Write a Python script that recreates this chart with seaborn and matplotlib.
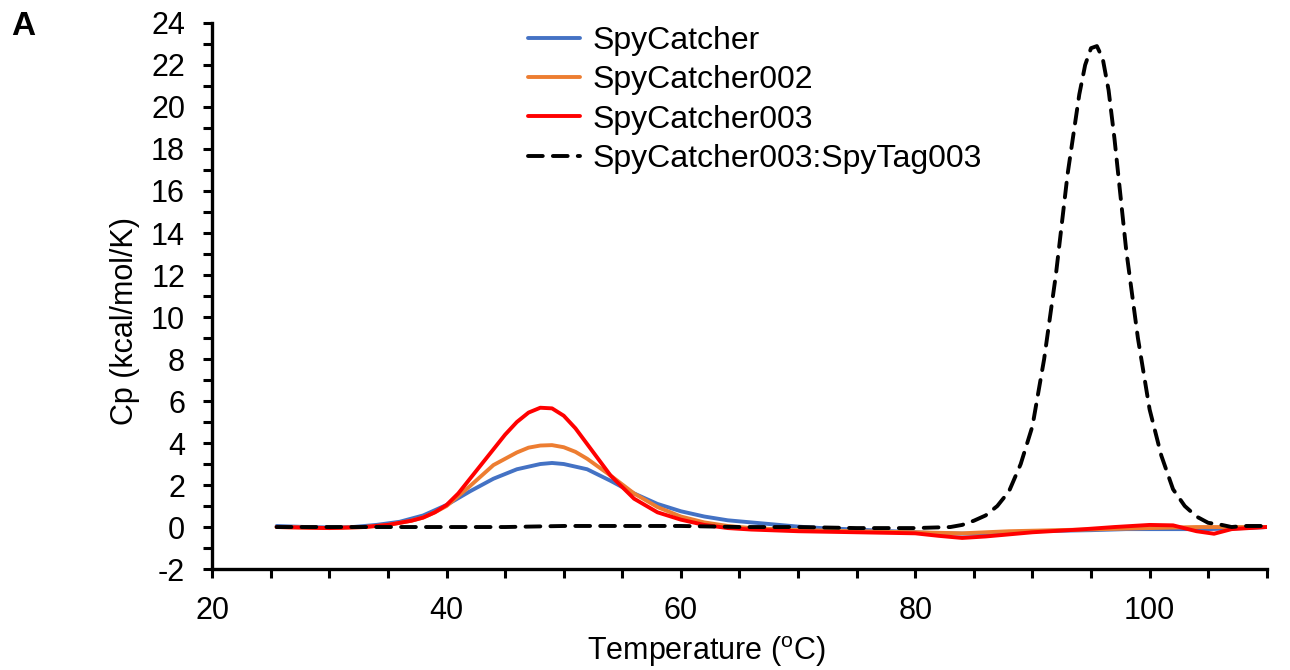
import matplotlib
matplotlib.use("Agg")
from matplotlib import pyplot as plt
from matplotlib.ticker import MultipleLocator
import seaborn as sns

# SpyCatcher (blue)
t_spy = [25.5, 28, 30, 32, 34, 36, 38, 40, 42, 44, 46, 48, 49, 50, 52, 54, 56, 58, 60,
         62, 64, 66, 68, 70, 72, 75, 78, 80, 82, 85, 88, 90, 95, 98, 100, 105, 108, 110]
cp_spy = [0.05, 0.0, -0.02, 0.0, 0.1, 0.25, 0.55, 1.05, 1.7, 2.3, 2.75, 3.0, 3.05, 3.0, 2.75, 2.2, 1.6, 1.1, 0.75,
          0.5, 0.32, 0.22, 0.12, 0.02, -0.05, -0.12, -0.2, -0.25, -0.3, -0.32, -0.25, -0.2, -0.15, -0.1, -0.1, -0.1, -0.05, 0.0]

# SpyCatcher002 (orange)
t_002 = [25.5, 30, 33, 35, 37, 38, 39, 40, 42, 44, 46, 47, 48, 49, 50, 51, 52, 54, 56, 58, 60,
         62, 64, 66, 68, 70, 75, 80, 84, 88, 92, 96, 100, 104, 108, 110]
cp_002 = [0.0, -0.05, 0.0, 0.1, 0.3, 0.45, 0.7, 1.0, 1.95, 2.95, 3.55, 3.78, 3.88, 3.9, 3.8, 3.58, 3.25, 2.45, 1.6, 0.95, 0.5,
          0.22, 0.05, -0.05, -0.1, -0.15, -0.2, -0.25, -0.3, -0.2, -0.15, -0.1, -0.05, 0.0, 0.0, 0.0]

# SpyCatcher003 (red)
t_003 = [25.5, 30, 33, 35, 37, 38, 39, 40, 41, 42, 43, 44, 45, 46, 47, 48, 49, 50, 51, 52, 53, 54, 56, 58, 60,
         62, 64, 66, 70, 75, 80, 82, 84, 86, 88, 90, 94, 97, 100, 102, 104, 105.5, 107, 110]
cp_003 = [0.0, -0.05, 0.0, 0.1, 0.3, 0.45, 0.7, 1.05, 1.6, 2.3, 3.0, 3.7, 4.4, 5.0, 5.45, 5.68, 5.65, 5.3, 4.7, 3.95, 3.2, 2.45, 1.35, 0.7, 0.35,
          0.1, -0.05, -0.12, -0.2, -0.25, -0.3, -0.42, -0.52, -0.45, -0.35, -0.25, -0.12, 0.0, 0.1, 0.08, -0.2, -0.32, -0.1, 0.0]

# SpyCatcher003:SpyTag003 (black dashed)
t_cplx = [25.5, 30, 35, 40, 45, 50, 55, 60, 65, 70, 75, 80, 83, 84, 85, 86, 87, 88, 89, 90, 91, 92, 93, 94, 94.5, 95, 95.5,
          96, 96.5, 97, 98, 99, 100, 101, 102, 103, 104, 105, 106, 107, 108, 110]
cp_cplx = [0.0, 0.0, 0.0, 0.0, 0.0, 0.05, 0.05, 0.05, 0.0, 0.0, -0.05, -0.05, 0.0, 0.1, 0.3, 0.55, 1.0, 1.7, 3.0, 4.8, 8.0, 12.0, 16.8, 20.6, 22.0, 22.8, 22.9,
           22.3, 20.8, 18.5, 13.2, 9.0, 5.6, 3.4, 1.8, 1.0, 0.5, 0.2, 0.12, 0.0, 0.05, 0.05]

sns.set_style("ticks")
plt.rcParams['font.family'] = ['Liberation Sans', 'DejaVu Sans']
plt.rcParams['mathtext.fontset'] = 'custom'
plt.rcParams['mathtext.rm'] = 'Liberation Sans'
plt.rcParams['axes.unicode_minus'] = False
for k in ['text.color', 'axes.labelcolor', 'xtick.color', 'ytick.color', 'axes.edgecolor']:
    plt.rcParams[k] = 'black'

fig = plt.figure(figsize=(12.9, 6.7), dpi=100)
ax = fig.add_axes([0.1645, 0.1507, 0.8175, 0.815])

lw = 2.8
sns.lineplot(x=t_spy, y=cp_spy, color="#4472C4", lw=lw, label="SpyCatcher", ax=ax)
sns.lineplot(x=t_002, y=cp_002, color="#ED7D31", lw=lw, label="SpyCatcher002", ax=ax)
sns.lineplot(x=t_003, y=cp_003, color="#FF0000", lw=lw, label="SpyCatcher003", ax=ax)
sns.lineplot(x=t_cplx, y=cp_cplx, color="black", lw=lw, label="SpyCatcher003:SpyTag003", ax=ax,
             linestyle=(0, (3.8, 2.6)), dash_capstyle="round")

ax.set_xlim(20, 110)
ax.set_ylim(-2, 24)
ax.set_xticks(range(20, 101, 20))
ax.xaxis.set_minor_locator(MultipleLocator(5))
ax.set_yticks(range(-2, 25, 2))
ax.yaxis.set_minor_locator(MultipleLocator(1))
ax.tick_params(which="both", direction="out", length=6.5, width=2.2, labelsize=22, color="black")
ax.tick_params(axis="both", which="major", pad=13)
for s in ["left", "bottom"]:
    ax.spines[s].set_linewidth(2.4)
sns.despine(ax=ax)

ax.set_xlabel("Temperature ($^{\\mathregular{o}}$C)", fontsize=22)
ax.set_ylabel("Cp (kcal/mol/K)", fontsize=22)
ax.xaxis.set_label_coords(0.469, -0.12)
ax.yaxis.set_label_coords(-0.068, 0.454)

ax.legend(loc="upper left", bbox_to_anchor=(528 / 1290, 1 - 26 / 670), bbox_transform=fig.transFigure,
          frameon=False, fontsize=23, handlelength=1.63, handletextpad=0.38, labelspacing=0.29,
          borderpad=0, borderaxespad=0)

fig.text(0.009, 0.96, "A", fontsize=24, fontweight="bold", ha="left", va="center")

plt.savefig("out.png", dpi=100)
